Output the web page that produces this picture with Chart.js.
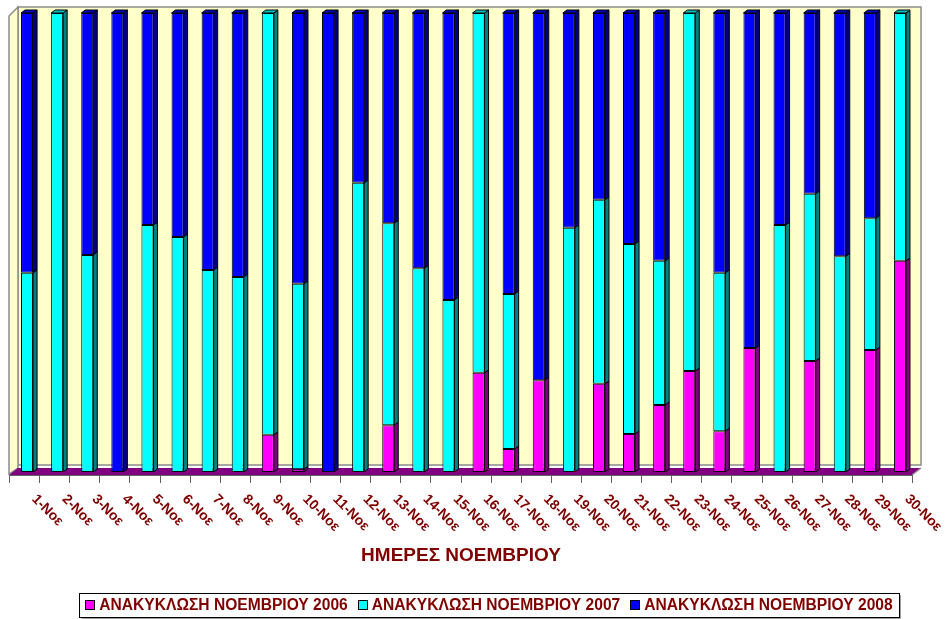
<!DOCTYPE html>
<html><head><meta charset="utf-8">
<script src="https://cdn.jsdelivr.net/npm/chart.js@4/dist/chart.umd.min.js"></script>
<style>html,body{margin:0;padding:0;background:#fff}#wrap{width:946px;height:619px}</style>
</head><body><div id="wrap"><canvas id="c" width="946" height="619"></canvas></div>
<script>
const categories = ['1-Νοε','2-Νοε','3-Νοε','4-Νοε','5-Νοε','6-Νοε','7-Νοε','8-Νοε','9-Νοε','10-Νοε','11-Νοε','12-Νοε','13-Νοε','14-Νοε','15-Νοε','16-Νοε','17-Νοε','18-Νοε','19-Νοε','20-Νοε','21-Νοε','22-Νοε','23-Νοε','24-Νοε','25-Νοε','26-Νοε','27-Νοε','28-Νοε','29-Νοε','30-Νοε'];
const seriesNames = ['ΑΝΑΚΥΚΛΩΣΗ ΝΟΕΜΒΡΙΟΥ 2006','ΑΝΑΚΥΚΛΩΣΗ ΝΟΕΜΒΡΙΟΥ 2007','ΑΝΑΚΥΚΛΩΣΗ ΝΟΕΜΒΡΙΟΥ 2008'];
const recycling2006 = [0,0,0,0,0,0,0,0,8.1,0.6,0,0,10.2,0,0,21.6,5,20,0,19.2,8.3,14.6,22,8.9,27,0,24.2,0,26.6,46];
const recycling2007 = [43.4,100,47.3,0,53.8,51.2,44,42.5,91.9,40.4,0,63,44,44.4,37.5,78.4,33.8,0,53.2,40.1,41.4,31.4,78,34.5,0,53.8,36.4,47,28.7,54];
const recycling2008 = [56.6,0,52.7,100,46.2,48.8,56,57.5,0,59,100,37,45.8,55.6,62.5,0,61.2,80,46.8,40.7,50.3,54,0,56.6,73,46.2,39.4,53,44.7,0];
const axisTitle = 'ΗΜΕΡΕΣ ΝΟΕΜΒΡΙΟΥ';

const fronts = ['#FF00FF','#00FFFF','#0000FF'];
const sides = ['#800080','#008080','#000080'];
const tops = ['#C000C0','#00C0C0','#0000C0'];
const DX = 4, DY = 3;
const TXT = '#800000';

const threeD = {
  id: 'threeD',
  beforeDatasetsDraw(chart) {
    const ctx = chart.ctx;
    ctx.save();
    const L = 9, R = 912, T = 16, B = 474, ox = 9, oy = 7;
    ctx.fillStyle = '#FFFFCC';
    ctx.strokeStyle = '#8c8c8c';
    ctx.lineWidth = 1.5;
    ctx.beginPath();
    ctx.rect(L + ox, T - oy - 2, R - L, B - T);
    ctx.fill(); ctx.stroke();
    ctx.beginPath();
    ctx.moveTo(L, T); ctx.lineTo(L + ox, T - oy - 2); ctx.lineTo(L + ox, B - oy + 1); ctx.lineTo(L, B);
    ctx.closePath(); ctx.fill(); ctx.stroke();
    ctx.fillStyle = '#800080';
    ctx.beginPath();
    ctx.moveTo(L, B + 1); ctx.lineTo(L + ox, B - oy + 1); ctx.lineTo(R + ox, B - oy + 1); ctx.lineTo(R, B + 1);
    ctx.closePath(); ctx.fill();
    ctx.strokeStyle = '#8c8c8c';
    ctx.beginPath(); ctx.moveTo(R + ox, B - oy + 1); ctx.lineTo(R, B + 1); ctx.stroke();
    ctx.restore();
  },
  afterDatasetsDraw(chart) {
    const ctx = chart.ctx;
    ctx.save();
    ctx.lineWidth = 1;
    ctx.strokeStyle = '#000';
    const n = chart.data.labels.length;
    for (let i = 0; i < n; i++) {
      let topIdx = -1;
      chart.data.datasets.forEach((ds, d) => { if (ds.data[i] > 0) topIdx = d; });
      chart.data.datasets.forEach((ds, d) => {
        if (!(ds.data[i] > 0)) return;
        const el = chart.getDatasetMeta(d).data[i];
        const x2 = el.x + el.width / 2, x1 = el.x - el.width / 2;
        const yt = el.y, yb = el.base;
        ctx.fillStyle = sides[d];
        ctx.beginPath();
        ctx.moveTo(x2, yt); ctx.lineTo(x2 + DX, yt - DY); ctx.lineTo(x2 + DX, yb - DY); ctx.lineTo(x2, yb);
        ctx.closePath(); ctx.fill(); ctx.stroke();
        if (d === topIdx) {
          ctx.fillStyle = tops[d];
          ctx.beginPath();
          ctx.moveTo(x1, yt); ctx.lineTo(x1 + DX, yt - DY); ctx.lineTo(x2 + DX, yt - DY); ctx.lineTo(x2, yt);
          ctx.closePath(); ctx.fill(); ctx.stroke();
        }
      });
    }
    ctx.restore();
  },
  afterDraw(chart) {
    const ctx = chart.ctx;
    const xs = chart.scales.x;
    const n = chart.data.labels.length;
    const w = (xs.right - xs.left) / n;
    ctx.save();
    ctx.strokeStyle = '#606060';
    ctx.lineWidth = 1;
    ctx.beginPath();
    ctx.moveTo(9, 475.5); ctx.lineTo(912, 475.5);
    for (let i = 0; i <= n; i++) {
      const tx = Math.round(xs.left + i * w - 3) + 0.5;
      ctx.moveTo(tx, 475); ctx.lineTo(tx, 483);
    }
    ctx.stroke();
    ctx.fillStyle = TXT;
    ctx.font = 'bold 14px "Liberation Sans", Arial, sans-serif';
    ctx.textAlign = 'left';
    ctx.textBaseline = 'middle';
    chart.data.labels.forEach((lab, i) => {
      const x = xs.getPixelForValue(i) + 7;
      ctx.save();
      ctx.translate(x, 497);
      ctx.rotate(Math.PI / 4);
      ctx.fillText(lab, 0, 0);
      ctx.restore();
    });
    ctx.font = 'bold 19px "Liberation Sans", Arial, sans-serif';
    ctx.textAlign = 'center';
    ctx.fillText(axisTitle, 461, 556);
    ctx.font = 'bold 15.6px "Liberation Sans", Arial, sans-serif';
    ctx.textAlign = 'left';
    const box = 10, gap1 = 4, gap2 = 10;
    const widths = chart.data.datasets.map(ds => ctx.measureText(ds.label).width);
    const total = widths.reduce((a, b) => a + b, 0) + chart.data.datasets.length * (box + gap1) + (chart.data.datasets.length - 1) * gap2;
    let x = 489 - total / 2;
    const cy = 605;
    const bx = Math.round(x - 6) + 0.5, bw = Math.round(total + 13);
    ctx.strokeStyle = '#000';
    ctx.lineWidth = 1;
    ctx.strokeRect(bx, 593.5, bw, 24);
    ctx.strokeStyle = '#a0a0a0';
    ctx.beginPath();
    ctx.moveTo(bx + 2, 618.5); ctx.lineTo(bx + bw + 1, 618.5); ctx.lineTo(bx + bw + 1, 595);
    ctx.stroke();
    chart.data.datasets.forEach((ds, d) => {
      ctx.fillStyle = fronts[d];
      ctx.fillRect(Math.round(x), cy - 5, box, box);
      ctx.strokeStyle = '#000';
      ctx.strokeRect(Math.round(x) + 0.5, cy - 4.5, box - 1, box - 1);
      x += box + gap1;
      ctx.fillStyle = TXT;
      ctx.fillText(ds.label, x, cy + 1);
      x += widths[d] + gap2;
    });
    ctx.restore();
  }
};

const seriesData = [recycling2006, recycling2007, recycling2008];
new Chart(document.getElementById('c'), {
  type: 'bar',
  data: {
    labels: categories,
    datasets: seriesData.map((arr, d) => ({
      label: seriesNames[d],
      data: arr,
      backgroundColor: fronts[d],
      borderColor: '#000',
      borderWidth: c => (c.raw > 0 ? 1 : 0),
      borderSkipped: false,
      categoryPercentage: 1,
      barPercentage: 0.4
    }))
  },
  options: {
    responsive: false,
    animation: false,
    events: [],
    layout: { padding: { left: 12, right: 31, top: 13, bottom: 147 } },
    plugins: { legend: { display: false }, title: { display: false }, tooltip: { enabled: false } },
    scales: {
      x: { display: false, stacked: true },
      y: { display: false, stacked: true, min: 0, max: 100 }
    }
  },
  plugins: [threeD]
});
</script>
</body></html>
